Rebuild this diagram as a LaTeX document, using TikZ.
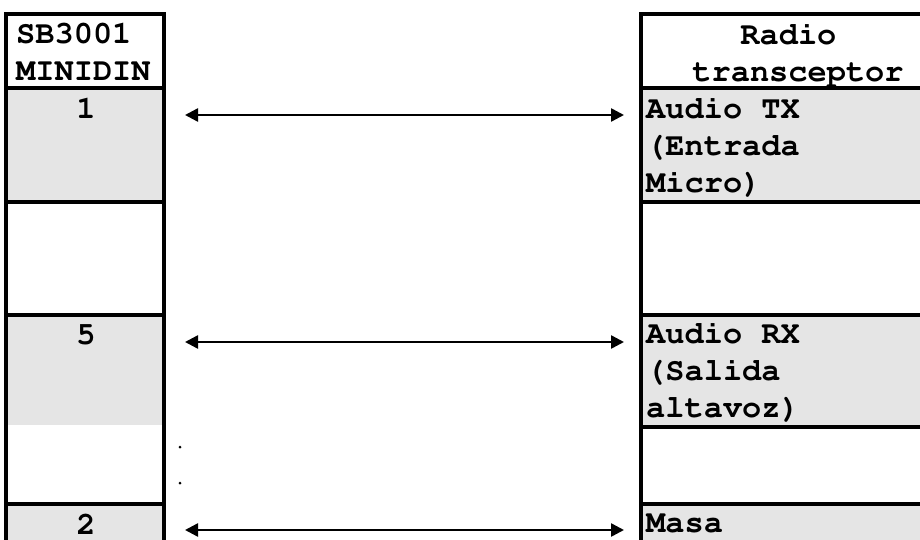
\documentclass[tikz,border=0pt]{standalone}
\usepackage[T1]{fontenc}
\usepackage{courier}
\usepackage{tikz}
\usetikzlibrary{arrows.meta}
\definecolor{cellgray}{HTML}{E5E5E5}
\tikzset{
    every node/.style={font=\ttfamily\bfseries\fontsize{32}{37}\selectfont,},
    cell/.style={draw,rectangle,line width=4pt,inner sep=0pt,outer sep=0pt,},
    pin/.style={align=center,anchor=north,inner sep=0pt,},
    lbl/.style={align=left,anchor=north west,inner sep=0pt,},
    link/.style={{Triangle[length=13pt,width=13pt]}-{Triangle[length=13pt,width=13pt]},line width=2.5pt,},
}

\begin{document}
\begin{tikzpicture}[x=1pt,y=-1pt]
                \useasboundingbox (0,0) rectangle (920,540);
                \clip (0,0) rectangle (920,540);
                \fill[cellgray] (6,315) rectangle (164,425);

                % SB3001 side
                \node[cell, minimum width=158pt, minimum height=74pt] (lhead) at (85,51) {};
                \node[cell, fill=cellgray, minimum width=158pt, minimum height=114pt] (l1) at (85,145) {};
                \node[cell, minimum width=158pt, minimum height=113pt] (l2) at (85,258.5) {};
                \node[cell, minimum width=158pt, minimum height=189pt] (l34) at (85,409.5) {};
                \node[cell, fill=cellgray, minimum width=158pt, minimum height=76pt] (l5) at (85,542) {};

                % radio side
                \node[cell, minimum width=314pt, minimum height=74pt] (rhead) at (798,51) {};
                \node[cell, fill=cellgray, minimum width=314pt, minimum height=114pt] (r1) at (798,145) {};
                \node[cell, minimum width=314pt, minimum height=113pt] (r2) at (798,258.5) {};
                \node[cell, fill=cellgray, minimum width=314pt, minimum height=112pt] (r3) at (798,371) {};
                \node[cell, minimum width=314pt, minimum height=77pt] (r4) at (798,465.5) {};
                \node[cell, fill=cellgray, minimum width=314pt, minimum height=76pt] (r5) at (798,542) {};

                \node[lbl] (sbname) at (16,23) {SB3001\\MINIDIN};
                \node[pin] (radioname) at (798,23) {Radio\hphantom{x}\\transceptor};

                \node[pin] (pin1) at (86,98) {1};
                \node[pin] (pin5) at (86,325) {5};
                \node[pin] (pin2) at (86,514) {2};

                \node[lbl] (audiotx) at (646,97) {Audio TX\\(Entrada\\Micro)};
                \node[lbl] (audiorx) at (646,322) {Audio RX\\(Salida\\altavoz)};
                \node[lbl] (masa) at (646,514) {Masa};

                \draw[link, shorten <=21pt, shorten >=17pt] ([yshift=-27pt]l1.north east) to ([yshift=-27pt]r1.north west);
                \draw[link, shorten <=21pt, shorten >=17pt] ([yshift=-27pt]l34.north east) to ([yshift=-27pt]r3.north west);
                \draw[link, shorten <=21pt, shorten >=17pt] ([yshift=-26pt]l5.north east) to ([yshift=-26pt]r5.north west);

                \fill (180,447) circle (1.5pt);
                \fill (180,483) circle (1.5pt);
            \end{tikzpicture}
\end{document}
